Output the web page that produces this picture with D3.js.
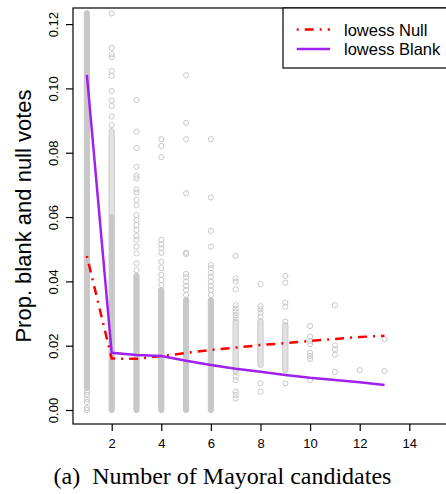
<!DOCTYPE html>
<html>
<head>
<meta charset="utf-8">
<script src="https://cdn.jsdelivr.net/npm/d3@7"></script>
<style>
  body { margin: 0; background: #fff; }
  svg { display: block; }
</style>
</head>
<body>
<div id="chart"></div>
<script>
// number of mayoral candidates (x positions of the columns)
const candidates = [1, 2, 3, 4, 5, 6, 7, 8, 9, 10, 11, 12, 13]

// lowess fits, one value per candidate count
const nullLowess  = [0.0479, 0.0160, 0.0159, 0.0168, 0.0177, 0.0187, 0.0194, 0.0202, 0.0208, 0.0215, 0.0221, 0.0227, 0.0231]
const blankLowess = [0.1042, 0.0178, 0.0171, 0.0168, 0.0153, 0.0140, 0.0128, 0.0119, 0.0109, 0.0100, 0.0093, 0.0086, 0.0078]

// where the points overlap into a solid column: [low, high] per candidate count
const denseSpans = [
  [0.0068, 0.1234], [0, 0.0600], [0, 0.0417], [0, 0.0373], [0, 0.0342], [0, 0.0342],
  null, null, null, null, null, null, null
]

// where the points are stacked closely but still show as rings
const looseSpans = [
  null, [0.0600, 0.0867], null, null, null, null,
  [0.0119, 0.0275], [0.0140, 0.0275], [0.0124, 0.0264], null, null, null, null
]

// single points outside those parts
const sparseVotes = [
  [0.0056, 0.0047, 0.0034, 0.0025, 0.0006, 0.0],
  [0.1233, 0.1126, 0.1106, 0.1097, 0.1054, 0.1039, 0.0992, 0.0962, 0.0945, 0.0913, 0.0886],
  [0.0964, 0.0865, 0.0815, 0.0756, 0.0728, 0.0720, 0.0686, 0.0676, 0.0653, 0.0637, 0.0606,
   0.0591, 0.0575, 0.0560, 0.0541, 0.0529, 0.0508, 0.0487, 0.0456, 0.0435],
  [0.0842, 0.0821, 0.0786, 0.0529, 0.0515, 0.0503, 0.0489, 0.0461, 0.0441, 0.0420, 0.0404, 0.0389],
  [0.1041, 0.0893, 0.0842, 0.0674, 0.0489, 0.0485, 0.0423, 0.0413, 0.0399, 0.0386, 0.0373, 0.0358],
  [0.0842, 0.0661, 0.0557, 0.0508, 0.0451, 0.0441, 0.0427, 0.0414, 0.0399, 0.0386, 0.0373, 0.0358],
  [0.0479, 0.0409, 0.0399, 0.0375, 0.0326, 0.0316, 0.0306, 0.0295, 0.0286, 0.0104, 0.0093, 0.0057, 0.0047, 0.0036],
  [0.0391, 0.0323, 0.0313, 0.0303, 0.0290, 0.0083, 0.0057],
  [0.0417, 0.0396, 0.0334, 0.0321, 0.0275, 0.0083],
  [0.0261, 0.0228, 0.0215, 0.0205, 0.0178, 0.0168, 0.0159, 0.0093],
  [0.0326, 0.0201, 0.0189, 0.0172, 0.0119],
  [0.0124],
  [0.0220, 0.0121]
]

const xTicks = [2, 4, 6, 8, 10, 12, 14]
const yTicks = [0, 0.02, 0.04, 0.06, 0.08, 0.10, 0.12]
const legendLabels = ['lowess Null', 'lowess Blank']

const w = 446
const h = 494
const box = { left: 73, right: 448, top: 8, bottom: 424 }
const gray = '#c8c8c8'
const red = '#ff0000'
const purple = '#a020f0'
const r = 2.6

const xScale = d3.scaleLinear().domain([0.44, 15.56]).range([box.left, box.right])
const yScale = d3.scaleLinear().domain([-0.00435, 0.125]).range([box.bottom, box.top])

const svg = d3.select('#chart')
  .append('svg')
  .attr('width', w)
  .attr('height', h)

svg.append('defs').append('clipPath').attr('id', 'plotclip')
  .append('rect')
  .attr('x', box.left).attr('y', box.top)
  .attr('width', box.right - box.left).attr('height', box.bottom - box.top)

const plot = svg.append('g').attr('clip-path', 'url(#plotclip)')

// a column of overlapping circles, drawn as one rounded bar
const drawSpans = (spans, cls, fill) => {
  plot.selectAll('rect.' + cls)
    .data(candidates.filter((c, i) => spans[i]))
    .enter()
    .append('rect')
    .attr('class', cls)
    .attr('x', c => xScale(c) - r)
    .attr('y', c => yScale(spans[c - 1][1]) - r)
    .attr('width', 2 * r)
    .attr('height', c => yScale(spans[c - 1][0]) - yScale(spans[c - 1][1]) + 2 * r)
    .attr('rx', r)
    .attr('fill', fill)
    .attr('stroke', gray)
    .attr('stroke-width', 1)
}
drawSpans(looseSpans, 'loose', '#e2e2e2')
drawSpans(denseSpans, 'dense', gray)

// the single points
const pts = []
candidates.forEach((c, i) => sparseVotes[i].forEach(v => pts.push([c, v])))

plot.selectAll('circle.pt')
  .data(pts)
  .enter()
  .append('circle')
  .attr('class', 'pt')
  .attr('cx', d => xScale(d[0]))
  .attr('cy', d => yScale(d[1]))
  .attr('r', r)
  .attr('fill', 'none')
  .attr('stroke', gray)
  .attr('stroke-width', 1)

// lowess lines
const line = d3.line()
  .x((d, i) => xScale(candidates[i]))
  .y(d => yScale(d))

plot.append('path')
  .datum(nullLowess)
  .attr('d', line)
  .attr('fill', 'none')
  .attr('stroke', red)
  .attr('stroke-width', 2.5)
  .attr('stroke-dasharray', '2,6,9,6')

plot.append('path')
  .datum(blankLowess)
  .attr('d', line)
  .attr('fill', 'none')
  .attr('stroke', purple)
  .attr('stroke-width', 2.5)

// box (right side falls outside the picture)
svg.append('rect')
  .attr('x', box.left).attr('y', box.top)
  .attr('width', box.right - box.left).attr('height', box.bottom - box.top)
  .attr('fill', 'none')
  .attr('stroke', '#000')
  .attr('stroke-width', 1.2)

// axes
const xAxis = d3.axisBottom(xScale)
  .tickValues(xTicks)
  .tickSize(7)
  .tickFormat(d3.format('d'))

const gx = svg.append('g')
  .attr('transform', 'translate(0,' + box.bottom + ')')
  .call(xAxis)
gx.select('.domain').remove()
gx.selectAll('line').attr('stroke', '#000').attr('stroke-width', 1.2)
gx.selectAll('text')
  .attr('y', 24)
  .attr('dy', null)
  .attr('fill', '#000')
  .style('font-family', 'Liberation Sans, Arial, sans-serif')
  .style('font-size', '13px')

const yAxis = d3.axisLeft(yScale)
  .tickValues(yTicks)
  .tickSize(7)
  .tickFormat(d3.format('.2f'))

const gy = svg.append('g')
  .attr('transform', 'translate(' + box.left + ',0)')
  .call(yAxis)
gy.select('.domain').remove()
gy.selectAll('line').attr('stroke', '#000').attr('stroke-width', 1.2)
gy.selectAll('text')
  .attr('x', null)
  .attr('dy', null)
  .attr('text-anchor', 'middle')
  .attr('transform', 'translate(-15,0) rotate(-90)')
  .attr('fill', '#000')
  .style('font-family', 'Liberation Sans, Arial, sans-serif')
  .style('font-size', '13px')

// axis titles
svg.append('text')
  .attr('transform', 'translate(31,' + (box.top + box.bottom) / 2 + ') rotate(-90)')
  .attr('text-anchor', 'middle')
  .style('font-family', 'Liberation Sans, Arial, sans-serif')
  .style('font-size', '22px')
  .text('Prop. blank and null votes')

svg.append('text')
  .attr('x', 222.5)
  .attr('y', 484)
  .attr('text-anchor', 'middle')
  .attr('xml:space', 'preserve')
  .style('white-space', 'pre')
  .style('font-family', 'Liberation Serif, Times New Roman, serif')
  .style('font-size', '24px')
  .text('(a)  Number of Mayoral candidates')

// legend
const legend = svg.append('g')
legend.append('rect')
  .attr('x', 283).attr('y', box.top)
  .attr('width', box.right - 283).attr('height', 60)
  .attr('fill', '#fff')
  .attr('stroke', '#000')
  .attr('stroke-width', 1.2)

const rows = legend.selectAll('g.row')
  .data(legendLabels)
  .enter()
  .append('g')
  .attr('class', 'row')
  .attr('transform', (d, i) => 'translate(0,' + (29.5 + i * 19.5) + ')')

rows.append('line')
  .attr('x1', 296.7).attr('x2', 330)
  .attr('stroke', (d, i) => i === 0 ? red : purple)
  .attr('stroke-width', 2.5)
  .attr('stroke-dasharray', (d, i) => i === 0 ? '2,6,9,6' : null)

rows.append('text')
  .attr('x', 344)
  .attr('y', 6)
  .style('font-family', 'Liberation Sans, Arial, sans-serif')
  .style('font-size', '16.5px')
  .text(d => d)
</script>
</body>
</html>
